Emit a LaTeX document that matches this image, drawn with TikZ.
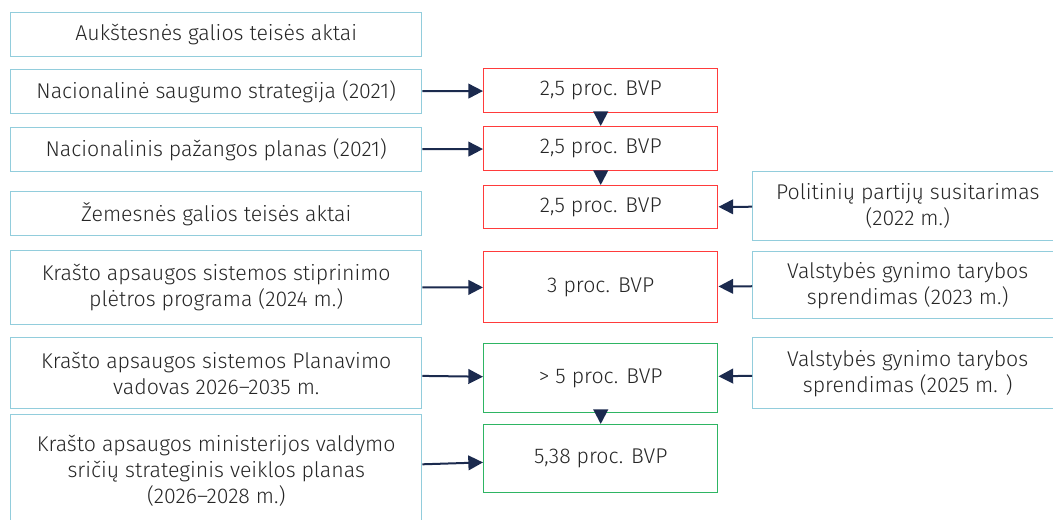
\documentclass[tikz,border=0pt]{standalone}
\usepackage{fontspec}
\setmainfont{Fira Sans Light}
\usepackage{xcolor}
\usetikzlibrary{positioning,arrows.meta}
\definecolor{boxblue}{HTML}{92CDDC}
\definecolor{boxred}{HTML}{FF3B3B}
\definecolor{boxgreen}{HTML}{2EB563}
\definecolor{arrowdark}{HTML}{1B2A4E}
\definecolor{textdark}{HTML}{262626}

\begin{document}
\begin{tikzpicture}[
        x=0.75pt, y=-0.75pt,
        every node/.style={
            rectangle,
            anchor=north west,
            inner sep=2pt,
            align=center,
            text=textdark,
            line width=1.1pt,
            font=\fontsize{16}{19.5}\selectfont
        },
        act/.style={
            draw=boxblue,
            minimum width=308.25pt,
            minimum height=33pt
        },
        side/.style={
            draw=boxblue,
            minimum width=232.5pt
        },
        goalred/.style={
            draw=boxred,
            minimum width=175.5pt,
            minimum height=33pt
        },
        goalgreen/.style={
            draw=boxgreen,
            minimum width=175.5pt
        },
        arrow/.style={
            -{Triangle[length=11pt, width=11pt]},
            line width=1.5pt,
            color=arrowdark
        }
    ]
        \useasboundingbox (0,0) rectangle (1053,520);

        % left column
        \node (upper) [act] at (10,12) {Aukštesnės galios teisės aktai};
        \node (nss) [act] at (10,69) {Nacionalinė saugumo strategija (2021)};
        \node (npp) [act] at (10,127) {Nacionalinis pažangos planas (2021)};
        \node (lower) [act] at (10,191) {Žemesnės galios teisės aktai};
        \node (kass) [act, minimum height=55.5pt] at (10,250) {Krašto apsaugos sistemos stiprinimo\\plėtros programa (2024 m.)};
        \node (plan) [act, minimum height=53.25pt] at (10,337) {Krašto apsaugos sistemos Planavimo\\vadovas 2026–2035 m.};
        \node (svp) [act, minimum height=84pt] at (10,414) {Krašto apsaugos ministerijos valdymo\\sričių strateginis veiklos planas\\(2026–2028 m.)};

        % middle column
        \node (g1) [goalred] at (483,68) {2,5 proc. BVP};
        \node (g2) [goalred] at (483,126) {2,5 proc. BVP};
        \node (g3) [goalred, minimum height=32.25pt] at (483,185) {2,5 proc. BVP};
        \node (g4) [goalred, minimum height=53.25pt] at (483,251) {3 proc. BVP};
        \node (g5) [goalgreen, minimum height=51.75pt] at (483,343) {> 5 proc. BVP};
        \node (g6) [goalgreen, minimum height=51pt] at (483,424) {5,38 proc. BVP};

        % right column
        \node (parties) [side, minimum height=51.75pt] at (752,171) {Politinių partijų susitarimas\\(2022 m.)};
        \node (vgt23) [side, minimum height=50.25pt] at (752,251) {Valstybės gynimo tarybos\\sprendimas (2023 m.)};
        \node (vgt25) [side, minimum height=53.25pt] at (752,337) {Valstybės gynimo tarybos\\sprendimas (2025 m. )};

        \draw[arrow] (nss) -- (g1);
        \draw[arrow] (npp) -- (g2);
        \draw[arrow] (kass) -- (g4);
        \draw[arrow] (plan) -- (g5);
        \draw[arrow] (svp) -- (g6);
        \draw[arrow] (g1) -- (g2);
        \draw[arrow] (g2) -- (g3);
        \draw[arrow] (g5) -- (g6);
        \draw[arrow] (parties) -- (g3);
        \draw[arrow] (vgt23) -- (g4);
        \draw[arrow] (vgt25) -- (g5);
    \end{tikzpicture}
\end{document}
